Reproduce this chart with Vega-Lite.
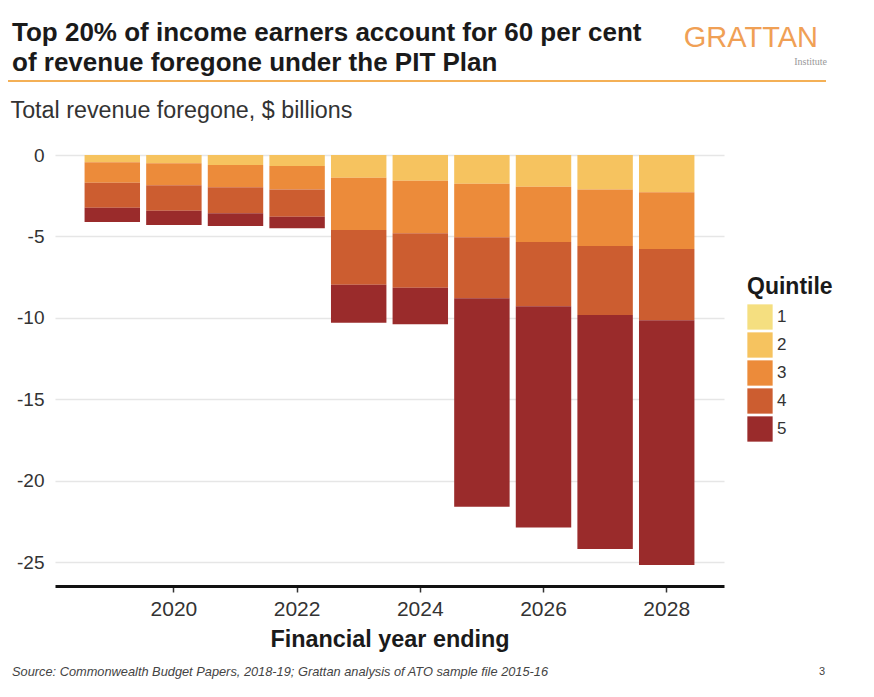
{
  "$schema": "https://vega.github.io/schema/vega-lite/v6.json",
  "width": 669,
  "height": 436,
  "autosize": {"type": "none"},
  "padding": {"left": 55, "top": 150, "right": 150, "bottom": 111},
  "background": "white",
  "title": {
    "text": ["Top 20% of income earners account for 60 per cent", "of revenue foregone under the PIT Plan"],
    "anchor": "start",
    "frame": "group",
    "dx": -43,
    "dy": 70,
    "offset": 18,
    "font": "Liberation Sans",
    "fontSize": 26,
    "fontWeight": "bold",
    "lineHeight": 30,
    "color": "#1a1a1a"
  },
  "config": {
    "view": {"stroke": null},
    "font": "Liberation Sans"
  },
  "layer": [
    {
      "data": {
        "values": [
          {"year": "2019", "quintile": "1", "value": 0},
          {"year": "2019", "quintile": "2", "value": -0.45},
          {"year": "2019", "quintile": "3", "value": -1.25},
          {"year": "2019", "quintile": "4", "value": -1.54},
          {"year": "2019", "quintile": "5", "value": -0.88},
          {"year": "2020", "quintile": "1", "value": 0},
          {"year": "2020", "quintile": "2", "value": -0.51},
          {"year": "2020", "quintile": "3", "value": -1.35},
          {"year": "2020", "quintile": "4", "value": -1.56},
          {"year": "2020", "quintile": "5", "value": -0.88},
          {"year": "2021", "quintile": "1", "value": 0},
          {"year": "2021", "quintile": "2", "value": -0.61},
          {"year": "2021", "quintile": "3", "value": -1.37},
          {"year": "2021", "quintile": "4", "value": -1.6},
          {"year": "2021", "quintile": "5", "value": -0.78},
          {"year": "2022", "quintile": "1", "value": 0},
          {"year": "2022", "quintile": "2", "value": -0.68},
          {"year": "2022", "quintile": "3", "value": -1.43},
          {"year": "2022", "quintile": "4", "value": -1.68},
          {"year": "2022", "quintile": "5", "value": -0.71},
          {"year": "2023", "quintile": "1", "value": 0},
          {"year": "2023", "quintile": "2", "value": -1.39},
          {"year": "2023", "quintile": "3", "value": -3.22},
          {"year": "2023", "quintile": "4", "value": -3.35},
          {"year": "2023", "quintile": "5", "value": -2.34},
          {"year": "2024", "quintile": "1", "value": 0},
          {"year": "2024", "quintile": "2", "value": -1.58},
          {"year": "2024", "quintile": "3", "value": -3.23},
          {"year": "2024", "quintile": "4", "value": -3.34},
          {"year": "2024", "quintile": "5", "value": -2.25},
          {"year": "2025", "quintile": "1", "value": 0},
          {"year": "2025", "quintile": "2", "value": -1.76},
          {"year": "2025", "quintile": "3", "value": -3.29},
          {"year": "2025", "quintile": "4", "value": -3.75},
          {"year": "2025", "quintile": "5", "value": -12.8},
          {"year": "2026", "quintile": "1", "value": 0},
          {"year": "2026", "quintile": "2", "value": -1.95},
          {"year": "2026", "quintile": "3", "value": -3.39},
          {"year": "2026", "quintile": "4", "value": -3.94},
          {"year": "2026", "quintile": "5", "value": -13.59},
          {"year": "2027", "quintile": "1", "value": 0},
          {"year": "2027", "quintile": "2", "value": -2.11},
          {"year": "2027", "quintile": "3", "value": -3.48},
          {"year": "2027", "quintile": "4", "value": -4.24},
          {"year": "2027", "quintile": "5", "value": -14.37},
          {"year": "2028", "quintile": "1", "value": 0},
          {"year": "2028", "quintile": "2", "value": -2.29},
          {"year": "2028", "quintile": "3", "value": -3.48},
          {"year": "2028", "quintile": "4", "value": -4.37},
          {"year": "2028", "quintile": "5", "value": -15.04}
        ]
      },
      "mark": {"type": "bar"},
      "encoding": {
        "x": {
          "field": "year",
          "type": "ordinal",
          "scale": {"paddingInner": 0.1, "paddingOuter": 0.48},
          "axis": {
            "values": ["2020", "2022", "2024", "2026", "2028"],
            "labelAngle": 0,
            "labelFontSize": 21,
            "labelColor": "#333333",
            "labelPadding": 6,
            "domainColor": "#111111",
            "domainWidth": 3,
            "tickColor": "#333333",
            "tickWidth": 1.5,
            "tickSize": 6,
            "title": "Financial year ending",
            "titleFontSize": 23.4,
            "titleFontWeight": "bold",
            "titleColor": "#1a1a1a",
            "titlePadding": 9
          }
        },
        "y": {
          "field": "value",
          "type": "quantitative",
          "stack": "zero",
          "scale": {"domain": [-26.47, 0.31], "nice": false, "zero": false},
          "axis": {
            "values": [0, -5, -10, -15, -20, -25],
            "labelExpr": "datum.value < 0 ? '-' + abs(datum.value) : '' + datum.value",
            "labelFontSize": 19,
            "labelColor": "#333333",
            "labelPadding": 11,
            "domain": false,
            "ticks": false,
            "grid": true,
            "gridColor": "#e6e6e6",
            "gridWidth": 1.5,
            "title": "Total revenue foregone, $ billions",
            "titleAngle": 0,
            "titleAlign": "left",
            "titleBaseline": "middle",
            "titleX": -45,
            "titleY": -40,
            "titleFontSize": 23.3,
            "titleFontWeight": "normal",
            "titleColor": "#333333"
          }
        },
        "color": {
          "field": "quintile",
          "type": "nominal",
          "scale": {
            "domain": ["1", "2", "3", "4", "5"],
            "range": ["#F5DF80", "#F6C35F", "#EC8B3A", "#CC5D30", "#9A2B2B"]
          },
          "legend": {
            "orient": "none",
            "legendX": 692,
            "legendY": 126,
            "title": "Quintile",
            "titleFontSize": 23,
            "titleFontWeight": "bold",
            "titleColor": "#1a1a1a",
            "titlePadding": 5,
            "symbolType": "square",
            "symbolSize": 640,
            "symbolStrokeWidth": 0,
            "rowPadding": 2,
            "labelFontSize": 17,
            "labelColor": "#333333",
            "labelOffset": 4,
            "padding": 0
          }
        },
        "order": {"field": "quintile", "type": "ordinal"}
      }
    },
    {
      "data": {"values": [{}]},
      "mark": {"type": "rule", "color": "#F4B056", "strokeWidth": 2},
      "encoding": {"x": {"value": -47}, "x2": {"value": 771}, "y": {"value": -69}}
    },
    {
      "data": {"values": [{}]},
      "mark": {"type": "text", "text": "GRATTAN", "align": "right", "baseline": "alphabetic", "font": "Liberation Sans", "fontSize": 29, "color": "#F0A055"},
      "encoding": {"x": {"value": 763}, "y": {"value": -103}}
    },
    {
      "data": {"values": [{}]},
      "mark": {"type": "text", "text": "Institute", "align": "right", "baseline": "alphabetic", "font": "Liberation Serif", "fontSize": 10, "color": "#999999"},
      "encoding": {"x": {"value": 772}, "y": {"value": -85}}
    },
    {
      "data": {"values": [{}]},
      "mark": {"type": "text", "text": "Source: Commonwealth  Budget Papers, 2018-19;  Grattan analysis of ATO sample file 2015-16", "align": "left", "baseline": "middle", "font": "Liberation Sans", "fontSize": 12.8, "fontStyle": "italic", "color": "#444444"},
      "encoding": {"x": {"value": -43}, "y": {"value": 522}}
    },
    {
      "data": {"values": [{}]},
      "mark": {"type": "text", "text": "3", "align": "center", "baseline": "middle", "font": "Liberation Sans", "fontSize": 11, "color": "#444444"},
      "encoding": {"x": {"value": 767}, "y": {"value": 522}}
    }
  ]
}
